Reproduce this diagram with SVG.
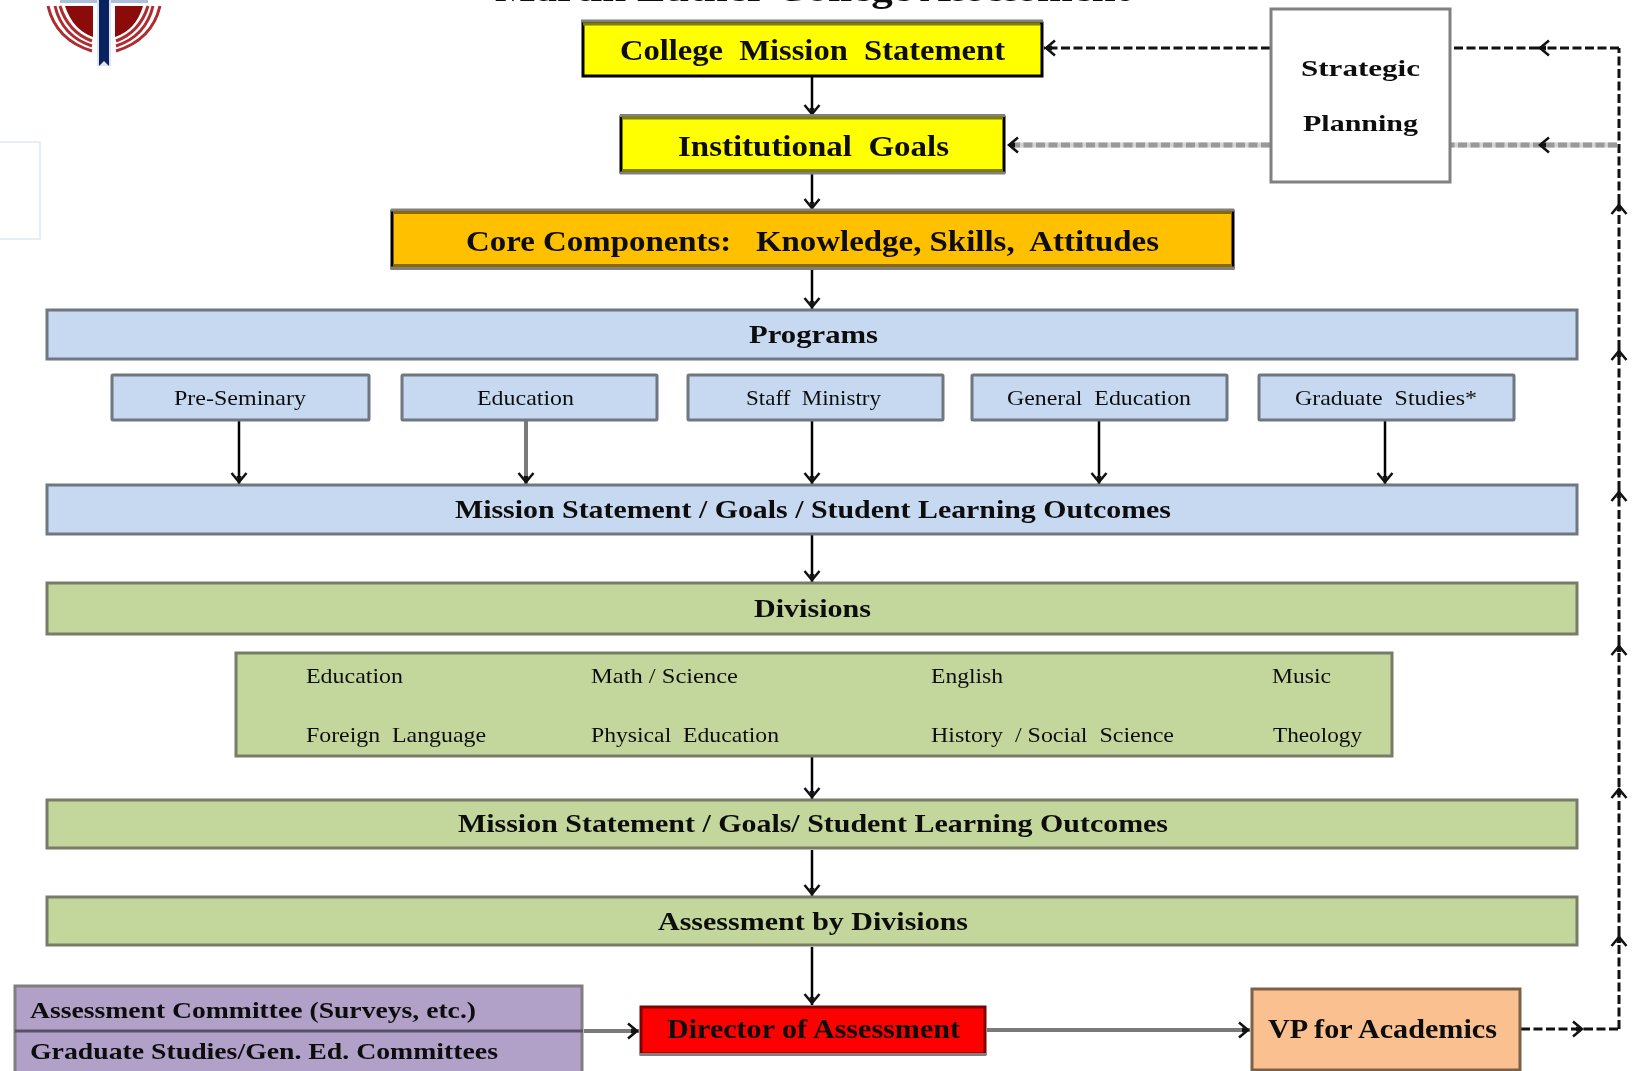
<svg xmlns="http://www.w3.org/2000/svg" width="1633" height="1071" viewBox="0 0 1633 1071">
<style>
text{font-family:"Liberation Serif","Times New Roman",serif;fill:#111;filter:url(#soft);white-space:pre}
.b{font-weight:bold}
.box{stroke-width:3}
.yel{fill:#ffff00;stroke:#000}
.core{fill:#ffc000;stroke:#000}
.blue{fill:#c6d9f1;stroke:#6f7780}
.green{fill:#c3d69b;stroke:#767c68}
.edge{stroke:#808080;stroke-width:3;fill:none}
.olive{stroke:#808000;stroke-width:3;fill:none}
.brown{stroke:#8a6a00;stroke-width:3;fill:none}
.solid{stroke:#000;stroke-width:2.5;fill:none;marker-end:url(#open)}
.solidg{stroke:#7a7a7a;stroke-width:4;fill:none;marker-end:url(#open)}
.dash{stroke:#111;stroke-width:3;stroke-dasharray:9 3.5;fill:none}
.dashg{stroke:#999;stroke-width:5;stroke-dasharray:9 3.5;fill:none}
.under{stroke:#d4d4d4;stroke-width:5;fill:none}
.ghost{stroke:none;fill:none;marker-end:url(#open)}
.arrow{marker-end:url(#open)}
.stripe{fill:none;stroke:#ad2c30;stroke-width:3}
</style>
<defs>
<filter id="soft" x="-5%" y="-40%" width="110%" height="180%"><feGaussianBlur stdDeviation="0.4"/></filter>
<marker id="open" markerUnits="userSpaceOnUse" markerWidth="20" markerHeight="20" refX="14" refY="10" orient="auto"><path d="M3 2.500 L12 10 L3 17.500" fill="none" stroke="#111" stroke-width="2.5"/><path d="M6 7.500 L13 10 L6 12.500Z" fill="#111"/></marker>
</defs>
<rect width="1633" height="1071" fill="#fff"/>
<g id="title"><text class="b" x="495" y="1" font-size="36" textLength="635" lengthAdjust="spacingAndGlyphs">Martin Luther College Assessment</text></g>
<g id="logo">
<rect x="60" y="0" width="88" height="3" fill="#aebfd8"/>
<path d="M65 6H93V37Q73 30 65 6ZM115 6H143Q136 30 115 37Z" fill="#8b0a0a"/>
<path class="stripe" d="M48 6Q56 40 92 51M55 6Q62 36 92 46M60 6Q68 32 92 41"/>
<path class="stripe" d="M160 6Q152 40 116 51M153 6Q146 36 116 46M148 6Q140 32 116 41"/>
<path d="M97 0H111V66H97Z" fill="#dfe5ef"/>
<path d="M99 0H109V66L104 61L99 66Z" fill="#0b2260"/>
</g>
<g id="faint-box"><rect x="-2" y="142" width="42" height="97" fill="#fff" stroke="#e9eef4" stroke-width="2"/></g>
<g id="connectors">
<path class="solid" d="M812 77V116"/>
<path class="solid" d="M812 174V210"/>
<path class="solid" d="M812 270V309"/>
<path class="solid" d="M239 421V484"/>
<path class="solidg" d="M526 421V484"/>
<path class="solid" d="M812 421V484"/>
<path class="solid" d="M1099 421V484"/>
<path class="solid" d="M1385 421V484"/>
<path class="solid" d="M812 534V582"/>
<path class="solid" d="M812 757V799"/>
<path class="solid" d="M812 850V896"/>
<path class="solid" d="M812 947V1005"/>
<path class="solidg" d="M584 1031H639"/>
<path class="solidg" d="M987 1030H1250"/>
<path class="dash arrow" d="M1521 1029H1584"/>
<path class="dash" d="M1584 1029H1619"/>
<path class="dash arrow" d="M1619 1029V935"/>
<path class="dash arrow" d="M1619 935V787"/>
<path class="dash arrow" d="M1619 787V644"/>
<path class="dash arrow" d="M1619 644V490"/>
<path class="dash arrow" d="M1619 490V349"/>
<path class="dash arrow" d="M1619 349V203"/>
<path class="dash" d="M1619 203V48"/>
<path class="dash arrow" d="M1619 48H1538"/>
<path class="dash" d="M1538 48H1451"/>
<path class="dash arrow" d="M1270 48H1044"/>
<path class="under" d="M1617 145H1451"/>
<path class="dashg" d="M1617 145H1451"/>
<path class="ghost" d="M1560 145H1538"/>
<path class="under" d="M1270 145H1012"/>
<path class="dashg" d="M1270 145H1012"/>
<path class="ghost" d="M1030 145H1007"/>
</g>
<g id="college"><rect class="box yel" x="583" y="23" width="459" height="53"/><path class="edge" d="M581 21H1043"/><path class="olive" d="M583 24H1040"/><text class="b" x="620" y="60" font-size="30" textLength="385" lengthAdjust="spacingAndGlyphs">College  Mission  Statement</text></g>
<g id="institutional"><rect class="box yel" x="621" y="117" width="383" height="55"/><path class="edge" d="M620 115.500H1005M620 173H1005"/><path class="olive" d="M622 118H1003M622 170.500H1003"/><text class="b" x="678" y="156" font-size="30" textLength="271" lengthAdjust="spacingAndGlyphs">Institutional  Goals</text></g>
<g id="core"><rect class="box core" x="392" y="211" width="841" height="57"/><path class="edge" d="M391 210H1234M391 268H1234"/><path class="brown" d="M393 212.500H1232M393 265.500H1232"/><text class="b" x="466" y="251" font-size="30" textLength="693" lengthAdjust="spacingAndGlyphs">Core Components:   Knowledge, Skills,  Attitudes</text></g>
<g id="programs"><rect class="box blue" x="47" y="310" width="1530" height="49"/><text class="b" x="749" y="343" font-size="26" textLength="129" lengthAdjust="spacingAndGlyphs">Programs</text></g>
<g id="pre-seminary"><rect class="box blue" x="112" y="375" width="257" height="45" rx="1"/><text x="174" y="405" font-size="22" textLength="132" lengthAdjust="spacingAndGlyphs">Pre-Seminary</text></g>
<g id="education-program"><rect class="box blue" x="402" y="375" width="255" height="45" rx="1"/><text x="477" y="405" font-size="22" textLength="97" lengthAdjust="spacingAndGlyphs">Education</text></g>
<g id="staff-ministry"><rect class="box blue" x="688" y="375" width="255" height="45" rx="1"/><text x="746" y="405" font-size="22" textLength="135" lengthAdjust="spacingAndGlyphs">Staff  Ministry</text></g>
<g id="general-education"><rect class="box blue" x="972" y="375" width="255" height="45" rx="1"/><text x="1007" y="405" font-size="22" textLength="184" lengthAdjust="spacingAndGlyphs">General  Education</text></g>
<g id="graduate-studies"><rect class="box blue" x="1259" y="375" width="255" height="45" rx="1"/><text x="1295" y="405" font-size="22" textLength="182" lengthAdjust="spacingAndGlyphs">Graduate  Studies*</text></g>
<g id="program-mission"><rect class="box blue" x="47" y="485" width="1530" height="49"/><text class="b" x="455" y="518" font-size="26" textLength="716" lengthAdjust="spacingAndGlyphs">Mission Statement / Goals / Student Learning Outcomes</text></g>
<g id="divisions"><rect class="box green" x="47" y="583" width="1530" height="51"/><text class="b" x="754" y="617" font-size="26" textLength="117" lengthAdjust="spacingAndGlyphs">Divisions</text></g>
<g id="division-list"><rect class="box green" x="236" y="653" width="1156" height="103"/>
<text x="306" y="683" font-size="22" textLength="97" lengthAdjust="spacingAndGlyphs">Education</text>
<text x="591" y="683" font-size="22" textLength="147" lengthAdjust="spacingAndGlyphs">Math / Science</text>
<text x="931" y="683" font-size="22" textLength="72" lengthAdjust="spacingAndGlyphs">English</text>
<text x="1272" y="683" font-size="22" textLength="59" lengthAdjust="spacingAndGlyphs">Music</text>
<text x="306" y="742" font-size="22" textLength="180" lengthAdjust="spacingAndGlyphs">Foreign  Language</text>
<text x="591" y="742" font-size="22" textLength="188" lengthAdjust="spacingAndGlyphs">Physical  Education</text>
<text x="931" y="742" font-size="22" textLength="243" lengthAdjust="spacingAndGlyphs">History  / Social  Science</text>
<text x="1273" y="742" font-size="22" textLength="89" lengthAdjust="spacingAndGlyphs">Theology</text>
</g>
<g id="division-mission"><rect class="box green" x="47" y="800" width="1530" height="48"/><text class="b" x="458" y="832" font-size="26" textLength="710" lengthAdjust="spacingAndGlyphs">Mission Statement / Goals/ Student Learning Outcomes</text></g>
<g id="assessment"><rect class="box green" x="47" y="897" width="1530" height="48"/><text class="b" x="658" y="930" font-size="26" textLength="310" lengthAdjust="spacingAndGlyphs">Assessment by Divisions</text></g>
<g id="committees"><rect x="15" y="986" width="567" height="90" fill="#b1a0c7" stroke="#7f7f7f" stroke-width="3"/><path d="M15 1031H583" stroke="#5a5168" stroke-width="3"/><text class="b" x="30" y="1018" font-size="23" textLength="446" lengthAdjust="spacingAndGlyphs">Assessment Committee (Surveys, etc.)</text><text class="b" x="30" y="1059" font-size="23" textLength="468" lengthAdjust="spacingAndGlyphs">Graduate Studies/Gen. Ed. Committees</text></g>
<g id="director"><rect x="641" y="1007" width="344" height="47" fill="#ff0000" stroke="#7f0000" stroke-width="3"/><path class="edge" d="M640 1054.500H986"/><text class="b" x="667" y="1038" font-size="28" textLength="293" lengthAdjust="spacingAndGlyphs">Director of Assessment</text></g>
<g id="vp"><rect x="1252" y="989" width="268" height="81" fill="#fac090" stroke="#7d6048" stroke-width="3"/><text class="b" x="1268" y="1038" font-size="28" textLength="229" lengthAdjust="spacingAndGlyphs">VP for Academics</text></g>
<g id="strategic"><rect x="1271" y="9" width="179" height="173" fill="#fff" stroke="#808080" stroke-width="3"/><text class="b" x="1301" y="76" font-size="24" textLength="119" lengthAdjust="spacingAndGlyphs">Strategic</text><text class="b" x="1303" y="131" font-size="24" textLength="115" lengthAdjust="spacingAndGlyphs">Planning</text></g>
</svg>
